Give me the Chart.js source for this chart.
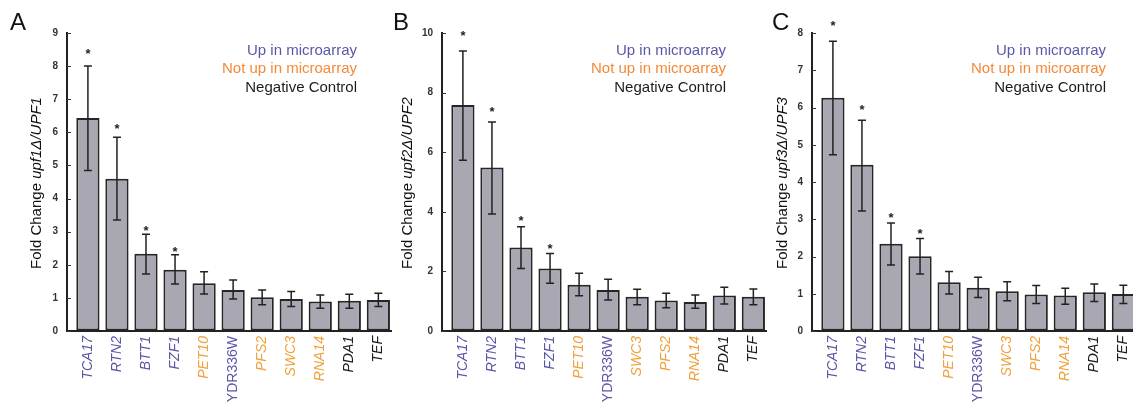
<!DOCTYPE html>
<html>
<head>
<meta charset="utf-8">
<script src="https://cdn.jsdelivr.net/npm/chart.js@4.4.1/dist/chart.umd.min.js"></script>
<style>
  body { margin: 0; width: 1133px; height: 409px; overflow: hidden; background: #fff; }
  .panel { position: absolute; top: 0; height: 409px; }
</style>
</head>
<body>
<div class="panel" style="left:0;width:392px"><canvas id="chartA"></canvas></div>
<div class="panel" style="left:392px;width:375px"><canvas id="chartB"></canvas></div>
<div class="panel" style="left:767px;width:370px"><canvas id="chartC"></canvas></div>
<script>
// gene order differs between panel A and panels B/C
const genesA = ["TCA17", "RTN2", "BTT1", "FZF1", "PET10", "YDR336W", "PFS2", "SWC3", "RNA14", "PDA1", "TEF"];
const genesBC = ["TCA17", "RTN2", "BTT1", "FZF1", "PET10", "YDR336W", "SWC3", "PFS2", "RNA14", "PDA1", "TEF"];

const upGenes = ["TCA17", "RTN2", "BTT1", "FZF1", "YDR336W"];
const notUpGenes = ["PET10", "PFS2", "SWC3", "RNA14"];

// upf1Δ/UPF1
const upf1Fold = [6.43, 4.6, 2.33, 1.85, 1.44, 1.24, 1.02, 0.97, 0.89, 0.91, 0.94];
const upf1Low = [4.85, 3.35, 1.72, 1.42, 1.12, 0.97, 0.79, 0.74, 0.69, 0.69, 0.74];
const upf1High = [8.0, 5.85, 2.92, 2.3, 1.79, 1.54, 1.24, 1.19, 1.09, 1.11, 1.14];
const upf1Star = [8.43, 6.17, 3.1, 2.47, null, null, null, null, null, null, null];

// upf2Δ/UPF2
const upf2Fold = [7.58, 5.49, 2.8, 2.1, 1.55, 1.38, 1.15, 1.02, 0.97, 1.19, 1.15];
const upf2Low = [5.73, 3.93, 2.1, 1.6, 1.18, 1.04, 0.88, 0.78, 0.76, 0.91, 0.88];
const upf2High = [9.4, 7.01, 3.5, 2.6, 1.94, 1.74, 1.4, 1.27, 1.21, 1.47, 1.41];
const upf2Star = [9.97, 7.44, 3.77, 2.83, null, null, null, null, null, null, null];

// upf3Δ/UPF3
const upf3Fold = [6.26, 4.46, 2.34, 2.01, 1.31, 1.16, 1.07, 0.98, 0.95, 1.04, 0.99];
const upf3Low = [4.73, 3.22, 1.77, 1.53, 0.99, 0.9, 0.81, 0.74, 0.72, 0.79, 0.74];
const upf3High = [7.78, 5.66, 2.9, 2.48, 1.6, 1.44, 1.32, 1.22, 1.15, 1.26, 1.23];
const upf3Star = [8.26, 6.0, 3.11, 2.68, null, null, null, null, null, null, null];

const legendItems = ["Up in microarray", "Not up in microarray", "Negative Control"];

const BLUE = "#5b57a8";
const ORANGE = "#f0a03c";
const LEGEND_ORANGE = "#f28a3a";
const BLACK = "#1c1c1c";
const FONT = "'Liberation Sans', Arial, sans-serif";

function geneColor(g) {
  if (upGenes.includes(g)) return BLUE;
  if (notUpGenes.includes(g)) return ORANGE;
  return BLACK;
}

const panelPlugin = {
  id: "panelDecor",
  afterDatasetsDraw(chart, args, opts) {
    const ctx = chart.ctx;
    const x = chart.scales.x, y = chart.scales.y;
    const area = chart.chartArea;
    ctx.save();
    // inward y tick marks
    ctx.strokeStyle = "#333";
    ctx.lineWidth = 1;
    y.ticks.forEach((t) => {
      const py = Math.round(y.getPixelForValue(t.value)) + 0.5;
      ctx.beginPath();
      ctx.moveTo(area.left, py);
      ctx.lineTo(area.left + 4, py);
      ctx.stroke();
    });
    // error bars
    ctx.strokeStyle = "#222";
    ctx.lineWidth = 1.5;
    opts.low.forEach((lo, i) => {
      const px = x.getPixelForValue(i);
      const y1 = y.getPixelForValue(lo), y2 = y.getPixelForValue(opts.high[i]);
      ctx.beginPath();
      ctx.moveTo(px, y1); ctx.lineTo(px, y2);
      ctx.moveTo(px - 4, y1); ctx.lineTo(px + 4, y1);
      ctx.moveTo(px - 4, y2); ctx.lineTo(px + 4, y2);
      ctx.stroke();
    });
    // significance marks
    ctx.fillStyle = "#222";
    ctx.font = "bold 13px " + FONT;
    ctx.textAlign = "center";
    ctx.textBaseline = "middle";
    opts.stars.forEach((s, i) => {
      if (s == null) return;
      ctx.fillText("*", x.getPixelForValue(i), y.getPixelForValue(s) + 3);
    });
    // panel letter
    ctx.fillStyle = "#111";
    ctx.font = "24px " + FONT;
    ctx.textAlign = "left";
    ctx.textBaseline = "alphabetic";
    ctx.fillText(opts.letter, opts.letterX, 30);
    // legend text
    ctx.font = "15px " + FONT;
    ctx.textAlign = "right";
    const lx = chart.width - opts.legendRight;
    [BLUE, LEGEND_ORANGE, BLACK].forEach((c, i) => {
      ctx.fillStyle = c;
      ctx.fillText(legendItems[i], lx, 55 + i * 18.3);
    });
    // y title with italic genotype
    ctx.translate(opts.titleX, (area.top + area.bottom) / 2 + 1);
    ctx.rotate(-Math.PI / 2);
    ctx.textAlign = "left";
    ctx.textBaseline = "middle";
    ctx.fillStyle = "#111";
    const part1 = "Fold Change ", part2 = opts.ratio;
    ctx.font = "15px " + FONT;
    const w1 = ctx.measureText(part1).width;
    ctx.font = "italic 15px " + FONT;
    const w2 = ctx.measureText(part2).width;
    const start = -(w1 + w2) / 2;
    ctx.font = "15px " + FONT;
    ctx.fillText(part1, start, 0);
    ctx.font = "italic 15px " + FONT;
    ctx.fillText(part2, start + w1, 0);
    ctx.restore();
  }
};

function makePanel(id, p) {
  const tickGene = (c) => (c && c.tick ? p.genes[c.tick.value] : "");
  new Chart(document.getElementById(id), {
    type: "bar",
    data: {
      datasets: [{
        data: p.fold.map((v, i) => ({ x: i, y: v })),
        backgroundColor: "#a9a7b2",
        borderColor: "#262626",
        borderWidth: 2,
        borderSkipped: false,
        barPercentage: 0.8,
        categoryPercentage: 1
      }]
    },
    plugins: [panelPlugin],
    options: {
      responsive: true,
      maintainAspectRatio: false,
      animation: false,
      layout: { padding: { top: 33, right: 0, left: 0, bottom: 0 } },
      plugins: {
        legend: { display: false },
        tooltip: { enabled: false },
        panelDecor: p.decor
      },
      scales: {
        x: {
          type: "linear",
          min: -0.72,
          max: 10.47,
          offset: false,
          afterBuildTicks: (scale) => { scale.ticks = p.genes.map((g, i) => ({ value: i })); },
          afterFit: (scale) => {
            scale.height = 78;
            scale.paddingLeft = 0;
            scale.paddingRight = 0;
          },
          grid: { display: false, drawTicks: false, tickLength: 0 },
          border: { display: true, color: "#222", width: 2 },
          ticks: {
            autoSkip: false,
            minRotation: 90,
            maxRotation: 90,
            padding: 5,
            callback: (v) => p.genes[v],
            color: (c) => geneColor(tickGene(c)),
            font: (c) => ({
              family: FONT,
              size: 14,
              style: tickGene(c) === "YDR336W" ? "normal" : "italic"
            })
          }
        },
        y: {
          min: 0,
          max: p.yMax,
          afterFit: (scale) => { scale.width = p.yWidth; },
          grid: { display: true, drawOnChartArea: false, drawTicks: false },
          border: { display: true, color: "#222", width: 2 },
          ticks: { stepSize: p.yStep, padding: 9, color: "#333", font: { family: FONT, size: 10, weight: "bold" } }
        }
      }
    }
  });
}

makePanel("chartA", {
  genes: genesA, fold: upf1Fold, yMax: 9, yStep: 1, yWidth: 67,
  decor: { low: upf1Low, high: upf1High, stars: upf1Star, letter: "A", letterX: 10, legendRight: 35, titleX: 37, ratio: "upf1Δ/UPF1" }
});
makePanel("chartB", {
  genes: genesBC, fold: upf2Fold, yMax: 10, yStep: 2, yWidth: 50,
  decor: { low: upf2Low, high: upf2High, stars: upf2Star, letter: "B", letterX: 1, legendRight: 41, titleX: 16, ratio: "upf2Δ/UPF2" }
});
makePanel("chartC", {
  genes: genesBC, fold: upf3Fold, yMax: 8, yStep: 1, yWidth: 45,
  decor: { low: upf3Low, high: upf3High, stars: upf3Star, letter: "C", letterX: 5, legendRight: 31, titleX: 16, ratio: "upf3Δ/UPF3" }
});
</script>
</body>
</html>
